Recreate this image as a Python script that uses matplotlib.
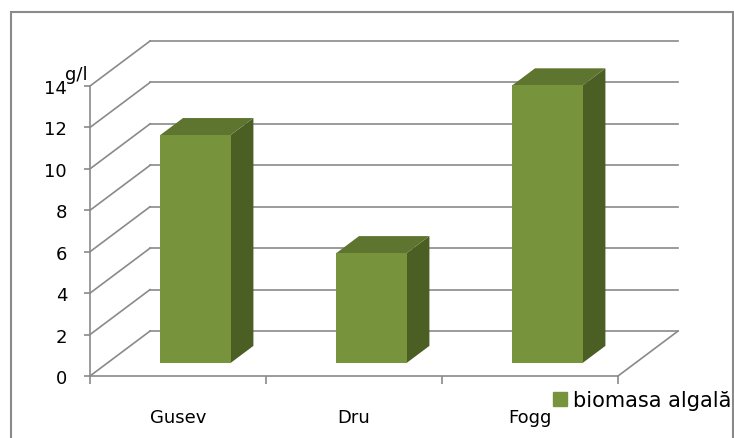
import matplotlib
matplotlib.use('Agg')
import matplotlib.pyplot as plt
from matplotlib.patches import Polygon, Rectangle, Patch

plt.rcParams['font.family'] = ['DejaVu Sans']

categories = ['Gusev', 'Dru', 'Fogg']
biomasa = [11.0, 5.3, 13.4]
y_ticks = [0, 2, 4, 6, 8, 10, 12, 14]
serie = 'biomasa algală'
unit = 'g/l'

W, H = 734, 439
fig = plt.figure(figsize=(W / 100, H / 100), dpi=100)
# axes = front plane of the 3D box
ax = fig.add_axes([90 / W, 1 - 377 / H, 528 / W, 290 / H])
ax.set_xlim(-0.5, len(categories) - 0.5)
ax.set_ylim(0, 14)
ax.patch.set_visible(False)

# box depth in data units, bar front/back as fraction of depth
dx, dy = 0.341, 2.17
z0, z1 = 0.29, 0.67
bw = 0.40

grid = '#8a8a8a'
c_front, c_top, c_side = '#77933c', '#5e7530', '#4b5e24'

x0, x1 = ax.get_xlim()
for v in y_ticks:
    ax.plot([x0 + dx, x1 + dx], [v + dy, v + dy], color=grid, lw=1.2,
            clip_on=False, zorder=1)
    ax.plot([x0, x0 + dx], [v, v + dy], color=grid, lw=1.2,
            clip_on=False, zorder=1)
ax.plot([x1, x1 + dx], [0, dy], color=grid, lw=1.2, clip_on=False, zorder=1)

ddx, ddy = (z1 - z0) * dx, (z1 - z0) * dy
for i, v in enumerate(biomasa):
    l = i - bw / 2 + z0 * dx
    r = i + bw / 2 + z0 * dx
    b = z0 * dy
    t = v + z0 * dy
    ax.add_patch(Polygon([(r, b), (r + ddx, b + ddy), (r + ddx, t + ddy), (r, t)],
                         closed=True, fc=c_side, ec='none', clip_on=False, zorder=3))
    ax.add_patch(Polygon([(l, t), (r, t), (r + ddx, t + ddy), (l + ddx, t + ddy)],
                         closed=True, fc=c_top, ec='none', clip_on=False, zorder=3))
    ax.add_patch(Polygon([(l, b), (r, b), (r, t), (l, t)],
                         closed=True, fc=c_front, ec='none', clip_on=False, zorder=4))

for s in ['top', 'right']:
    ax.spines[s].set_visible(False)
for s in ['left', 'bottom']:
    ax.spines[s].set_color(grid)
    ax.spines[s].set_linewidth(1.2)

ax.set_yticks(y_ticks)
ax.tick_params(axis='y', length=4.5, width=1.2, color=grid, pad=12,
               labelsize=13, labelcolor='black')

ax.set_xticks([k - 0.5 for k in range(len(categories) + 1)])
ax.set_xticklabels([])
ax.set_xticks(range(len(categories)), minor=True)
ax.set_xticklabels(categories, minor=True)
ax.tick_params(axis='x', which='major', length=5.8, width=1.2, color=grid)
ax.tick_params(axis='x', which='minor', length=0, pad=23, labelsize=13)

fig.text(65 / W, 1 - 80 / H, unit, fontsize=13, va='baseline', ha='left')

fig.legend(handles=[Patch(color=c_front)], labels=[serie], loc='center left',
           bbox_to_anchor=(553 / W, 1 - 401 / H), frameon=False,
           handlelength=0.65, handleheight=0.65, handletextpad=0.3,
           borderpad=0, borderaxespad=0, fontsize=15)

# chart frame
fig.add_artist(Rectangle((11 / W, -0.05), 722 / W, 1.05 - 13 / H,
                         transform=fig.transFigure, fill=False,
                         ec='#8a8a8a', lw=1.5))

fig.savefig('out.png', dpi=100)
